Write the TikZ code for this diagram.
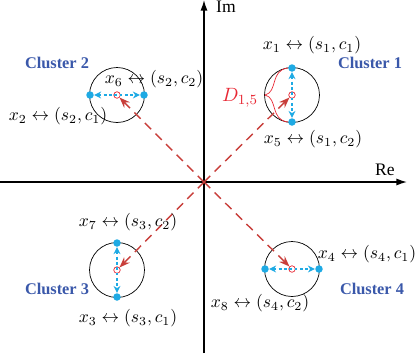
\documentclass[tikz,border=0pt]{standalone}
\usepackage{fontspec}
\setmainfont{Liberation Serif}
\usepackage{amsmath, amssymb}
\usetikzlibrary{arrows.meta}
\definecolor{clusterblue}{RGB}{58,88,170}
\definecolor{dotcyan}{RGB}{30,170,228}
\definecolor{linered}{RGB}{200,62,58}
\definecolor{bracered}{RGB}{232,40,52}
\tikzstyle{axis} = [thick,-{Latex[length=6pt,width=4pt]}]
\tikzstyle{cluster} = [circle, draw=black, thin, minimum size=1.1cm, inner sep=0pt]
\tikzstyle{centre} = [circle, draw=bracered, thin, minimum size=0.13cm, inner sep=0pt]
\tikzstyle{dot} = [circle, fill=dotcyan, minimum size=0.15cm, inner sep=0pt]
\tikzstyle{bluearrow} = [dotcyan, thick, dash pattern=on 1.6pt off 1.4pt, {Stealth[length=4pt,width=4pt]}-{Stealth[length=4pt,width=4pt]}]
\tikzstyle{redarrow} = [linered, thick, dash pattern=on 5pt off 3.5pt, -{Stealth[length=6pt,width=4.5pt]}]
\tikzstyle{lbl} = [font=\fontsize{10}{12}\selectfont, inner sep=0pt]
\tikzstyle{clbl} = [font=\fontsize{9.3}{11}\selectfont\bfseries, text=clusterblue, inner sep=0pt]

\begin{document}
\begin{tikzpicture}[x=0.02cm, y=-0.02cm]
\useasboundingbox (0,0) rectangle (416,353);
\coordinate (O) at (204,182);
\coordinate (xl) at (0,182);
\coordinate (xr) at (407,182);
\coordinate (yb) at (204,353);
\coordinate (yt) at (204,0);
\draw [axis] (xl) -- (xr);
\draw [axis] (yb) -- (yt);
\node (im) [lbl] at (226,7) {Im};
\node (re) [lbl] at (385,170) {Re};

\node (c1) [cluster] at (292,95) {};
\node (c2) [cluster] at (117,95) {};
\node (c3) [cluster] at (117,270) {};
\node (c4) [cluster] at (292,269) {};
\node (o1) [centre] at (c1) {};
\node (o2) [centre] at (c2) {};
\node (o3) [centre] at (c3) {};
\node (o4) [centre] at (c4) {};

\node (d1) [dot] at (292,68) {};
\node (d5) [dot] at (292,122) {};
\node (d2) [dot] at (90,95) {};
\node (d6) [dot] at (144,95) {};
\node (d7) [dot] at (117,243) {};
\node (d3) [dot] at (117,297) {};
\node (d8) [dot] at (265,269) {};
\node (d4) [dot] at (319,269) {};
\draw [bluearrow] (d1) -- (d5);
\draw [bluearrow] (d2) -- (d6);
\draw [bluearrow] (d7) -- (d3);
\draw [bluearrow] (d8) -- (d4);

\draw [redarrow] (O) -- (o1);
\draw [redarrow] (O) -- (o2);
\draw [redarrow] (O) -- (o3);
\draw [redarrow] (O) -- (o4);

\draw [bracered, thin] (d1.west) .. controls (270,70) and (278,92) .. (265,95) .. controls (278,98) and (270,120) .. (d5.west);
\node (dist) [lbl, font=\fontsize{11}{13}\selectfont, text=bracered] at (240,98) {$D_{1,5}$};

\node (l1) [lbl] at (312,45) {$x_1 \leftrightarrow (s_1,c_1)$};
\node (l5) [lbl] at (313,139) {$x_5 \leftrightarrow (s_1,c_2)$};
\node (l6) [lbl] at (154,79) {$x_6 \leftrightarrow (s_2,c_2)$};
\node (l2) [lbl] at (58,116) {$x_2 \leftrightarrow (s_2,c_1)$};
\node (l7) [lbl] at (128,222) {$x_7 \leftrightarrow (s_3,c_2)$};
\node (l3) [lbl] at (128,318) {$x_3 \leftrightarrow (s_3,c_1)$};
\node (l4) [lbl] at (367,254) {$x_4 \leftrightarrow (s_4,c_1)$};
\node (l8) [lbl] at (260,303) {$x_8 \leftrightarrow (s_4,c_2)$};

\node (k1) [clbl] at (370,63) {Cluster 1};
\node (k2) [clbl] at (57,63) {Cluster 2};
\node (k3) [clbl] at (57,289) {Cluster 3};
\node (k4) [clbl] at (372,289) {Cluster 4};
\end{tikzpicture}
\end{document}
